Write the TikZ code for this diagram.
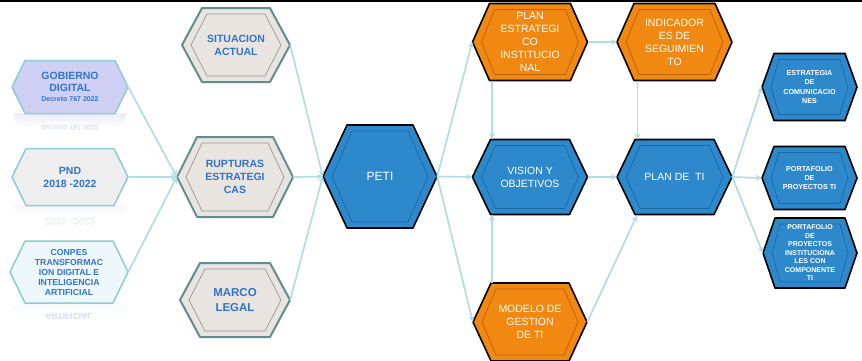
\documentclass[tikz,border=0pt]{standalone}
\usepackage{fontspec}
\setmainfont{Liberation Sans}
\usetikzlibrary{arrows.meta,fadings}
\definecolor{bluefill}{RGB}{46,137,204}
\definecolor{blueinner}{RGB}{30,105,165}
\definecolor{orangefill}{RGB}{240,136,18}
\definecolor{orangeinner}{RGB}{190,100,10}
\definecolor{grayfill}{RGB}{232,228,224}
\definecolor{grayborder}{RGB}{98,140,142}
\definecolor{grayinner}{RGB}{150,150,150}
\definecolor{lightborder}{RGB}{140,205,208}
\definecolor{lavfill}{RGB}{208,208,244}
\definecolor{pndfill}{RGB}{238,238,238}
\definecolor{conpesfill}{RGB}{238,247,252}
\definecolor{textblue}{RGB}{50,116,200}
\definecolor{connc}{RGB}{176,222,226}
\tikzset{
  blueouter/.style={fill=bluefill,draw=black,line width=1.6pt,line join=round},
  blueinnerl/.style={draw=blueinner,line width=0.8pt},
  orangeouter/.style={fill=orangefill,draw=black,line width=1.6pt,line join=round},
  orangeinnerl/.style={draw=orangeinner,line width=0.8pt},
  grayouter/.style={fill=grayfill,draw=grayborder,line width=2pt,line join=round},
  grayinnerl/.style={draw=grayinner,line width=0.7pt},
  lavouter/.style={fill=lavfill,draw=lightborder,line width=1.5pt,line join=round},
  lavinnerl/.style={draw=none},
  pndouter/.style={fill=pndfill,draw=lightborder,line width=1.5pt,line join=round},
  pndinnerl/.style={draw=none},
  conpesouter/.style={fill=conpesfill,draw=lightborder,line width=1.5pt,line join=round},
  conpesinnerl/.style={draw=none},
  hexlabel/.style={inner sep=0pt,align=center},
  whitetxt/.style={text=white,font=\fontsize{10.5}{13}\selectfont},
  bluetxt/.style={text=textblue,font=\bfseries\fontsize{10.5}{13}\selectfont},
  smalltxt/.style={text=white,font=\bfseries\fontsize{7.2}{9.2}\selectfont},
  conn/.style={draw=connc,line width=1.7pt,-{Stealth[length=6pt,width=6pt]}},
}
% #1 name, #2 center, #3 w, #4 h, #5 inset, #6 kind, #7 text style, #8 text
\newcommand\hexnode[8]{%
  \begin{scope}[shift={#2}]
    \path[#6outer] ({-#3/2},0) -- ({-#3/2+#5},{-#4/2}) -- ({#3/2-#5},{-#4/2}) -- ({#3/2},0) -- ({#3/2-#5},{#4/2}) -- ({-#3/2+#5},{#4/2}) -- cycle;
    \path[#6innerl] ({-#3/2+9},0) -- ({-#3/2+#5+5},{-#4/2+6}) -- ({#3/2-#5-5},{-#4/2+6}) -- ({#3/2-9},0) -- ({#3/2-#5-5},{#4/2-6}) -- ({-#3/2+#5+5},{#4/2-6}) -- cycle;
  \end{scope}
  \node[hexlabel,minimum width=#3,minimum height=#4,#7] (#1) at #2 {#8};%
}
% reflection: #1 bottom-center, #2 w, #3 inset, #4 fill colour
\newcommand\reflect[4]{%
  \begin{scope}[shift={#1}]
    \path[fill=#4,fill opacity=0.4,path fading=south] ({-#2/2+1},0) -- ({#2/2-1},0) -- ({#2/2-#3*0.4},14) -- ({-#2/2+#3*0.4},14) -- cycle;
  \end{scope}%
}
\begin{document}
\begin{tikzpicture}[x=1pt,y=-1pt]
\useasboundingbox (0,0) rectangle (862,360);
\clip (0,0) rectangle (862,360);
\fill[white] (0,0) rectangle (862,360);
\draw[black,line width=1.6pt] (0,0.8) -- (862,0.8);

% left column
\reflect{(70,113)}{116}{13}{lavfill}
\node[text=textblue,opacity=0.2,yscale=-1,font=\bfseries\fontsize{7}{8}\selectfont] (refl1) at (70,128) {Decreto 767 2022};
\reflect{(70,205)}{116}{14}{pndfill}
\node[text=textblue,opacity=0.1,yscale=-1,font=\bfseries\fontsize{10}{12}\selectfont] (refl2) at (70,222) {2018 -2022};
\reflect{(69,305)}{118}{15}{conpesfill}
\node[text=textblue,opacity=0.22,yscale=-1,font=\bfseries\fontsize{8.5}{10}\selectfont] (refl3) at (69,316) {ARTIFICIAL};

\hexnode{gd}{(70,87)}{116}{53}{13}{lav}{bluetxt}{GOBIERNO\\[-1pt]DIGITAL\\[-3pt]{\fontsize{7}{8}\selectfont Decreto 767 2022}}
\hexnode{pnd}{(70,177)}{116}{57}{14}{pnd}{bluetxt}{PND\\2018 -2022}
\hexnode{cp}{(69,272)}{118}{62}{15}{conpes}{bluetxt,font=\bfseries\fontsize{8.7}{10}\selectfont}{CONPES\\TRANSFORMAC\\ION DIGITAL E\\INTELIGENCIA\\ARTIFICIAL}

% second column
\hexnode{sa}{(236,45)}{108}{74}{20}{gray}{bluetxt}{SITUACION\\ACTUAL}
\hexnode{re}{(235,177)}{116}{80}{20}{gray}{bluetxt}{RUPTURAS\\ESTRATEGI\\CAS}
\hexnode{ml}{(235,300)}{110}{74}{20}{gray}{bluetxt,font=\bfseries\fontsize{11.5}{15}\selectfont}{MARCO\\LEGAL}

% centre
\hexnode{peti}{(380,176.5)}{114}{103}{24}{blue}{whitetxt,font=\fontsize{12}{14}\selectfont}{PETI}

% third / fourth columns
\hexnode{pe}{(530,42)}{115}{77}{17}{orange}{whitetxt}{PLAN\\ESTRATEGI\\CO\\INSTITUCIO\\NAL}
\hexnode{vo}{(530,177)}{115}{75}{18}{blue}{whitetxt}{VISION Y\\OBJETIVOS}
\hexnode{mg}{(530,322)}{114}{78}{18}{orange}{whitetxt}{MODELO DE\\GESTION\\DE TI}
\hexnode{is}{(674.5,42)}{115}{77}{17}{orange}{whitetxt}{INDICADOR\\ES DE\\SEGUIMIEN\\TO}
\hexnode{pti}{(674.5,177)}{115}{75}{18}{blue}{whitetxt}{PLAN DE~ TI}

% right column
\hexnode{ec}{(809.5,87)}{95}{67}{12}{blue}{smalltxt}{ESTRATEGIA\\DE\\COMUNICACIO\\NES}
\hexnode{pp}{(809.5,178)}{95}{63}{12}{blue}{smalltxt}{PORTAFOLIO\\DE\\PROYECTOS TI}
\hexnode{pi}{(810,253)}{94}{70}{12}{blue}{smalltxt,font=\bfseries\fontsize{7}{8.5}\selectfont}{PORTAFOLIO\\DE\\PROYECTOS\\INSTITUCIONA\\LES CON\\COMPONENTE\\TI}

% connectors
\draw[conn] (gd.east) -- (re.west);
\draw[conn] (pnd.east) -- (re.west);
\draw[conn] (cp.east) -- (re.west);
\draw[conn] (sa.east) -- (peti.west);
\draw[conn] (re.east) -- (peti.west);
\draw[conn] (ml.east) -- (peti.west);
\draw[conn] (peti.east) -- (pe.west);
\draw[conn] (peti.east) -- (vo.west);
\draw[conn] (peti.east) -- (mg.west);
\draw[conn] ([xshift=-38pt]pe.south) -- ([xshift=-38pt]vo.north);
\draw[conn] ([xshift=-38pt]mg.north) -- ([xshift=-38pt]vo.south);
\draw[conn] (pe.east) -- (is.west);
\draw[conn] ([xshift=-37pt]is.south) -- ([xshift=-37pt]pti.north);
\draw[conn] (vo.east) -- (pti.west);
\draw[conn] (mg.east) -- ([xshift=20pt,yshift=-1pt]pti.south west);
\draw[conn] (pti.east) -- (ec.west);
\draw[conn] (pti.east) -- (pp.west);
\draw[conn] (pti.east) -- (pi.west);
\end{tikzpicture}
\end{document}
